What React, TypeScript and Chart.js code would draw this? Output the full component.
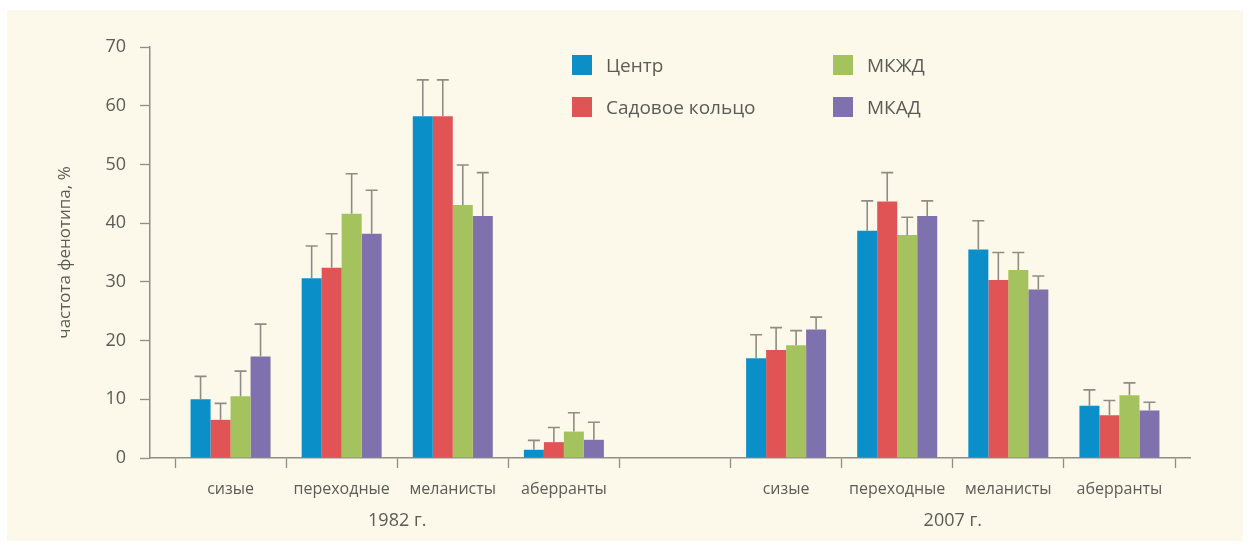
import React, { useEffect, useRef } from 'react';
import { Chart, registerables } from 'chart.js';

Chart.register(...registerables);

const categories = ['сизые', 'переходные', 'меланисты', 'аберранты', '', 'сизые', 'переходные', 'меланисты', 'аберранты'];
const groupLabels = ['1982 г.', '2007 г.'];

const seriesNames = ['Центр', 'Садовое кольцо', 'МКЖД', 'МКАД'];
const seriesColors = ['#0a8fc9', '#e15455', '#a4c25e', '#7f70ae'];

const centerValues = [10.0, 30.6, 58.2, 1.4, null, 17.0, 38.7, 35.5, 8.9];
const centerErrors = [3.9, 5.5, 6.2, 1.6, null, 4.0, 5.1, 4.9, 2.7];
const sadovoeValues = [6.5, 32.4, 58.2, 2.7, null, 18.4, 43.7, 30.3, 7.3];
const sadovoeErrors = [2.8, 5.8, 6.2, 2.5, null, 3.8, 4.9, 4.7, 2.5];
const mkzdValues = [10.5, 41.6, 43.1, 4.5, null, 19.2, 38.0, 32.0, 10.7];
const mkzdErrors = [4.3, 6.8, 6.8, 3.2, null, 2.5, 3.0, 3.0, 2.1];
const mkadValues = [17.3, 38.2, 41.2, 3.1, null, 21.9, 41.2, 28.7, 8.1];
const mkadErrors = [5.5, 7.4, 7.4, 3.0, null, 2.1, 2.6, 2.3, 1.4];

const yTicksMin = 0;
const yTicksMax = 70;
const yTicksStep = 10;

const allValues = [centerValues, sadovoeValues, mkzdValues, mkadValues];
const allErrors = [centerErrors, sadovoeErrors, mkzdErrors, mkadErrors];

const FONT = "'Open Sans', 'Noto Sans', sans-serif";
const TEXT = '#5b5b58';
const AXIS = '#8f8f88';

const X_MIN = -0.225;
const X_MAX = 9.135;

const blankIndex = categories.indexOf('');
const groupCenters = [blankIndex / 2, (blankIndex + 1 + categories.length) / 2];

const errorBarPlugin = {
  id: 'errorBars',
  afterDatasetsDraw(chart: any) {
    const ctx = chart.ctx;
    const yScale = chart.scales.y;
    ctx.save();
    ctx.strokeStyle = '#8e8d85';
    ctx.lineWidth = 1.6;
    chart.data.datasets.forEach((ds: any, di: number) => {
      const meta = chart.getDatasetMeta(di);
      const errs = allErrors[di];
      meta.data.forEach((el: any, i: number) => {
        const v = allValues[di][i];
        const e = errs[i];
        if (v == null || e == null) return;
        const yTop = yScale.getPixelForValue(v + e);
        const x = el.x;
        ctx.beginPath();
        ctx.moveTo(x, el.y);
        ctx.lineTo(x, yTop);
        ctx.moveTo(x - 6, yTop);
        ctx.lineTo(x + 6, yTop);
        ctx.stroke();
      });
    });
    ctx.restore();
  },
};

export default function App() {
  const canvasRef = useRef<HTMLCanvasElement | null>(null);

  useEffect(() => {
    if (!canvasRef.current) return;
    const datasets = seriesNames.map((name, si) => ({
      label: name,
      data: allValues[si].map((v, i) => ({ x: i + 0.5, y: v })),
      backgroundColor: seriesColors[si],
      borderWidth: 0,
      categoryPercentage: 0.72,
      barPercentage: 1,
    }));

    const chart = new Chart(canvasRef.current, {
      type: 'bar',
      data: { datasets },
      plugins: [errorBarPlugin],
      options: {
        responsive: false,
        animation: false,
        devicePixelRatio: 1,
        layout: { padding: { left: 0, right: 60, top: 47, bottom: 0 } },
        plugins: { legend: { display: false }, tooltip: { enabled: false } },
        scales: {
          x: {
            type: 'linear',
            position: 'bottom',
            weight: 0,
            min: X_MIN,
            max: X_MAX,
            offset: false,
            grid: {
              offset: false,
              drawOnChartArea: false,
              drawTicks: true,
              tickLength: 10,
              tickWidth: 1.3,
              tickColor: AXIS,
            },
            border: { display: true, color: AXIS, width: 1.5 },
            afterBuildTicks: (scale: any) => {
              const ticks: any[] = [];
              for (let i = 0; i <= categories.length; i++) ticks.push({ value: i });
              scale.ticks = ticks;
            },
            afterFit: (scale: any) => {
              scale.height = 10;
            },
            ticks: { display: false, autoSkip: false },
          },
          xc: {
            type: 'linear',
            position: 'bottom',
            weight: 1,
            min: X_MIN,
            max: X_MAX,
            offset: false,
            grid: { display: false, drawTicks: false },
            border: { display: false },
            afterBuildTicks: (scale: any) => {
              const ticks: any[] = [];
              categories.forEach((c, i) => {
                if (c !== '') ticks.push({ value: i + 0.5 });
              });
              scale.ticks = ticks;
            },
            afterFit: (scale: any) => {
              scale.height = 40;
            },
            ticks: {
              autoSkip: false,
              maxRotation: 0,
              padding: 12,
              color: TEXT,
              font: { family: FONT, size: 16 },
              callback: (value: any) => categories[Math.floor(Number(value))] || '',
            },
          },
          xg: {
            type: 'linear',
            position: 'bottom',
            weight: 2,
            min: X_MIN,
            max: X_MAX,
            offset: false,
            grid: { display: false, drawTicks: false },
            border: { display: false },
            afterBuildTicks: (scale: any) => {
              scale.ticks = groupCenters.map((c) => ({ value: c }));
            },
            afterFit: (scale: any) => {
              scale.height = 41;
            },
            ticks: {
              autoSkip: false,
              maxRotation: 0,
              padding: 2,
              color: TEXT,
              font: { family: FONT, size: 18 },
              callback: (value: any) => {
                const idx = groupCenters.indexOf(Number(value));
                return idx >= 0 ? groupLabels[idx] : '';
              },
            },
          },
          y: {
            type: 'linear',
            min: yTicksMin,
            max: yTicksMax,
            afterFit: (scale: any) => {
              scale.width = 150;
            },
            grid: {
              drawOnChartArea: false,
              drawTicks: true,
              tickLength: 10,
              tickWidth: 1.3,
              tickColor: AXIS,
            },
            border: { display: true, color: AXIS, width: 1.5 },
            ticks: {
              stepSize: yTicksStep,
              padding: 14,
              color: TEXT,
              font: { family: FONT, size: 18 },
            },
            title: {
              display: true,
              text: 'частота фенотипа, %',
              color: TEXT,
              font: { family: FONT, size: 17 },
              padding: { top: 55, bottom: 0 },
            },
          },
        },
      },
    } as any);
    return () => chart.destroy();
  }, []);

  const legendItem = (si: number, left: number, top: number) => (
    <div
      key={si}
      style={{ position: 'absolute', left, top, display: 'flex', alignItems: 'center', height: 22 }}
    >
      <div style={{ width: 20, height: 20, background: seriesColors[si], marginRight: 14 }} />
      <span style={{ fontFamily: FONT, fontSize: 19, color: TEXT, lineHeight: '22px' }}>{seriesNames[si]}</span>
    </div>
  );

  return (
    <div style={{ position: 'absolute', left: 0, top: 0, width: 1250, height: 549, background: '#ffffff', overflow: 'hidden' }}>
      <div style={{ position: 'absolute', left: 7, top: 10, right: 7, bottom: 8, background: '#fdf9ea' }} />
      <canvas
        ref={canvasRef}
        width={1250}
        height={549}
        style={{ position: 'absolute', left: 0, top: 0, width: 1250, height: 549 }}
      />
      {legendItem(0, 572, 54)}
      {legendItem(1, 572, 96)}
      {legendItem(2, 833, 54)}
      {legendItem(3, 833, 96)}
    </div>
  );
}
